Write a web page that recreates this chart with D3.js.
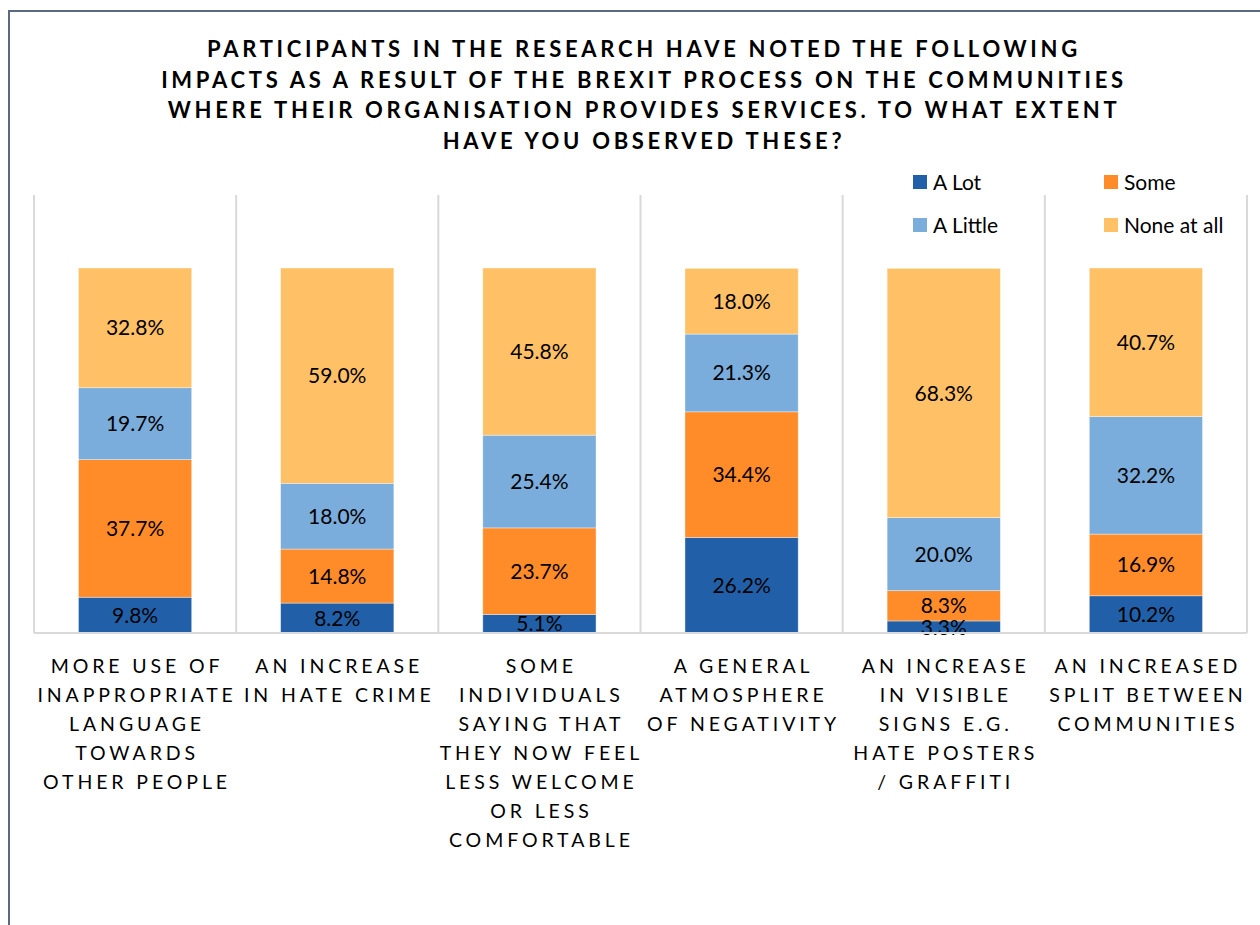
<!DOCTYPE html>
<html>
<head>
<meta charset="utf-8">
<script src="https://cdn.jsdelivr.net/npm/d3@7"></script>
<style>
  html, body { margin: 0; padding: 0; background: #fff; }
  svg { display: block; }
  text { font-family: Lato, "Open Sans", sans-serif; fill: #000; }
</style>
</head>
<body>
<svg id="chart" width="1260" height="925"></svg>
<script>
// ---- data ----
const titleLines = [
  "PARTICIPANTS IN THE RESEARCH HAVE NOTED THE FOLLOWING",
  "IMPACTS AS A RESULT OF THE BREXIT PROCESS ON THE COMMUNITIES",
  "WHERE THEIR ORGANISATION PROVIDES SERVICES. TO WHAT EXTENT",
  "HAVE YOU OBSERVED THESE?"
];
const categories = [
  "More use of inappropriate language towards other people",
  "An increase in hate crime",
  "Some individuals saying that they now feel less welcome or less comfortable",
  "A general atmosphere of negativity",
  "An increase in visible signs e.g. hate posters / graffiti",
  "An increased split between communities"
];
const categoryLabelLines = [
  ["MORE USE OF", "INAPPROPRIATE", "LANGUAGE", "TOWARDS", "OTHER PEOPLE"],
  ["AN INCREASE", "IN HATE CRIME"],
  ["SOME", "INDIVIDUALS", "SAYING THAT", "THEY NOW FEEL", "LESS WELCOME", "OR LESS", "COMFORTABLE"],
  ["A GENERAL", "ATMOSPHERE", "OF NEGATIVITY"],
  ["AN INCREASE", "IN VISIBLE", "SIGNS E.G.", "HATE POSTERS", "/ GRAFFITI"],
  ["AN INCREASED", "SPLIT BETWEEN", "COMMUNITIES"]
];
const seriesNames = ["A Lot", "Some", "A Little", "None at all"];
const aLot     = [9.8, 8.2, 5.1, 26.2, 3.3, 10.2];
const some     = [37.7, 14.8, 23.7, 34.4, 8.3, 16.9];
const aLittle  = [19.7, 18.0, 25.4, 21.3, 20.0, 32.2];
const noneAtAll= [32.8, 59.0, 45.8, 18.0, 68.3, 40.7];
const seriesColors = ["#2160a8", "#ff8c29", "#7aaddc", "#ffc066"];

// ---- build table ----
const table = categories.map((c, i) => ({
  cat: c,
  "A Lot": aLot[i], "Some": some[i], "A Little": aLittle[i], "None at all": noneAtAll[i]
}));
const stack = d3.stack().keys(seriesNames)(table);

const svg = d3.select("#chart");

// chart border
svg.append("rect")
  .attr("x", 9).attr("y", 11).attr("width", 1300).attr("height", 1000)
  .attr("fill", "#fff").attr("stroke", "#5b6a84").attr("stroke-width", 2);

// scales
const x = d3.scaleBand().domain(categories).range([34, 1247]).paddingInner(0.44).paddingOuter(0.22);
const y = d3.scaleLinear().domain([0, 120]).range([633, 195]);

// category separators
const step = x.step();
const seps = d3.range(categories.length + 1).map(i => 34 + i * step);
svg.append("g").selectAll("line").data(seps).join("line")
  .attr("x1", d => d).attr("x2", d => d)
  .attr("y1", y(120)).attr("y2", y(0))
  .attr("stroke", "#d9d9d9").attr("stroke-width", 2);

// bars
const g = svg.append("g");
stack.forEach((layer, si) => {
  g.append("g").selectAll("rect").data(layer).join("rect")
    .attr("x", d => x(d.data.cat))
    .attr("width", x.bandwidth())
    .attr("y", d => y(d[1]))
    .attr("height", d => y(d[0]) - y(d[1]))
    .attr("fill", seriesColors[si])
    .attr("stroke", "#ffffff").attr("stroke-opacity", 0.5).attr("stroke-width", 0.75);
});

// baseline
svg.append("line")
  .attr("x1", 34).attr("x2", 1247).attr("y1", y(0)).attr("y2", y(0))
  .attr("stroke", "#d9d9d9").attr("stroke-width", 2);

// data labels
stack.forEach((layer, si) => {
  g.append("g").selectAll("text").data(layer).join("text")
    .attr("x", d => x(d.data.cat) + x.bandwidth() / 2)
    .attr("y", d => (y(d[0]) + y(d[1])) / 2)
    .attr("dy", "0.36em")
    .attr("text-anchor", "middle")
    .attr("font-size", 21)
    .text(d => (d[1] - d[0]).toFixed(1) + "%");
});

// category labels
const catG = svg.append("g");
categories.forEach((c, i) => {
  const t = catG.append("text")
    .attr("text-anchor", "middle")
    .attr("font-size", 19.5)
    .attr("letter-spacing", "3.9px");
  categoryLabelLines[i].forEach((ln, j) => {
    t.append("tspan")
      .attr("x", x(c) + x.bandwidth() / 2 + 2)
      .attr("y", 673 + j * 29)
      .text(ln);
  });
});

// title
const tt = svg.append("text")
  .attr("text-anchor", "middle")
  .attr("font-size", 22)
  .attr("font-weight", "bold")
  .attr("letter-spacing", "3.7px");
titleLines.forEach((ln, j) => {
  tt.append("tspan").attr("x", 644).attr("y", 57 + j * 30.5).text(ln);
});

// legend
const legendPos = [[913, 182], [1104, 182], [913, 225], [1104, 225]];
seriesNames.forEach((s, i) => {
  const [lx, ly] = legendPos[i];
  svg.append("rect").attr("x", lx).attr("y", ly - 7).attr("width", 14).attr("height", 14)
    .attr("fill", seriesColors[i]);
  svg.append("text").attr("x", lx + 20).attr("y", ly).attr("dy", "0.36em")
    .attr("font-size", 21).text(s);
});
</script>
</body>
</html>
